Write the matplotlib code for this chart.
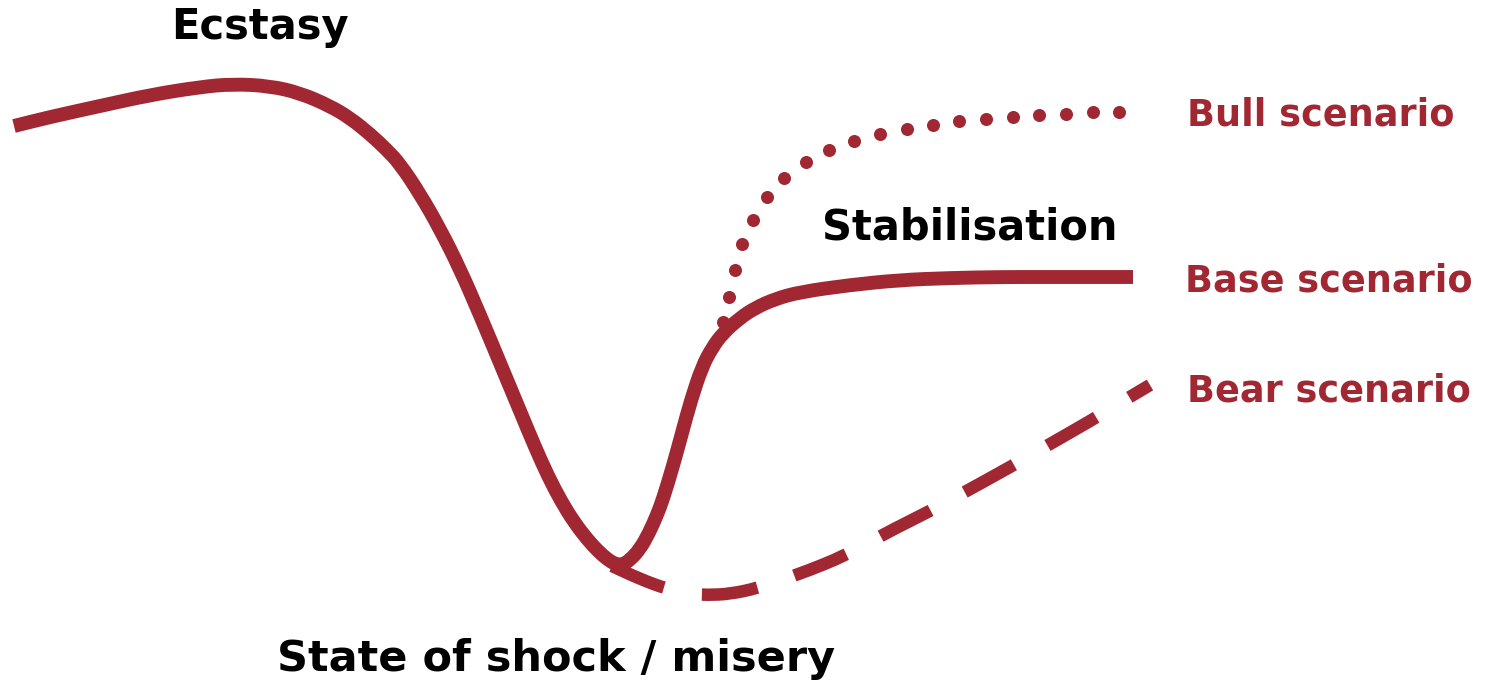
import numpy as np
import matplotlib
matplotlib.use("Agg")
import matplotlib.pyplot as plt
from matplotlib.path import Path
from matplotlib.patches import PathPatch

RED = "#a12833"

# main curve (ecstasy -> shock -> stabilisation)
main_x = [14, 50, 100, 150, 200, 233, 270, 300, 330, 350, 370, 387, 400, 420,
          440, 460, 480, 500, 520, 535, 548, 561, 574, 587, 598, 607, 615,
          622, 630, 640, 649, 657, 663, 673, 682, 691, 702, 712, 723, 740,
          755, 775, 800, 850, 900, 950, 1000, 1050, 1100, 1133]
main_y = [126, 117, 106, 95, 87, 84, 86, 93, 106, 118, 134, 150, 164, 194,
          229, 269, 315, 363, 411, 447, 476, 501, 522, 539, 551, 559, 564,
          565, 560, 549, 533, 515, 499, 466, 433, 400, 367, 348, 333, 318,
          308, 299, 292, 285, 280, 278, 277, 277, 277, 277]

# bull scenario (one entry per dot)
bull_x = [723, 729, 735, 742, 753, 767, 784, 806, 829, 854, 880, 907, 933,
          959, 986, 1013, 1039, 1066, 1093, 1119]
bull_y = [322, 297, 270, 244, 220, 197, 178, 162, 150, 141, 134, 129, 125,
          121, 119, 117, 115, 114, 112, 112]

# bear scenario (dashed)
bear_x = [612, 640, 667, 690, 707, 730, 758, 797, 847, 882, 930, 963, 1012,
          1043, 1092, 1123, 1150]
bear_y = [566, 579, 589, 594, 595, 594, 588, 575, 555, 535, 511, 493, 466,
          448, 420, 401, 385]

labels = ["Bull scenario", "Base scenario", "Bear scenario"]
label_x = [1187, 1185, 1187]
label_y = [125, 291, 402]


def smooth_path(xs, ys):
    # read points act as quadratic bezier controls, drawn by matplotlib
    pts = np.column_stack([xs, ys]).astype(float)
    mids = (pts[:-1] + pts[1:]) / 2
    verts = [pts[0], mids[0]]
    codes = [Path.MOVETO, Path.LINETO]
    for i in range(1, len(pts) - 1):
        verts += [pts[i], mids[i]]
        codes += [Path.CURVE3, Path.CURVE3]
    verts.append(pts[-1])
    codes.append(Path.LINETO)
    return Path(verts, codes)


fig = plt.figure(figsize=(14.85, 6.82), dpi=100)
ax = fig.add_axes([0, 0, 1, 1])
ax.set_xlim(0, 1485)
ax.set_ylim(682, 0)
ax.axis("off")

bear = PathPatch(smooth_path(bear_x, bear_y), fill=False, edgecolor=RED,
                 lw=9, linestyle=(0, (4.5, 3.1)), capstyle="butt",
                 joinstyle="round")
ax.add_patch(bear)
main = PathPatch(smooth_path(main_x, main_y), fill=False, edgecolor=RED,
                 lw=10, capstyle="butt", joinstyle="round")
ax.add_patch(main)
ax.scatter(bull_x, bull_y, s=88, color=RED, linewidths=0, zorder=3)

bold = dict(fontweight="bold", family="DejaVu Sans")
ax.text(260, 39, "Ecstasy", fontsize=30, ha="center", va="baseline", **bold)
ax.text(970, 240, "Stabilisation", fontsize=30, ha="center", va="baseline",
        **bold)
ax.text(556, 671, "State of shock / misery", fontsize=31, ha="center",
        va="baseline", **bold)
for lab, x, y in zip(labels, label_x, label_y):
    ax.text(x, y, lab, fontsize=26.4, color=RED, ha="left", va="baseline",
            **bold)

fig.savefig("out.png", dpi=100)
